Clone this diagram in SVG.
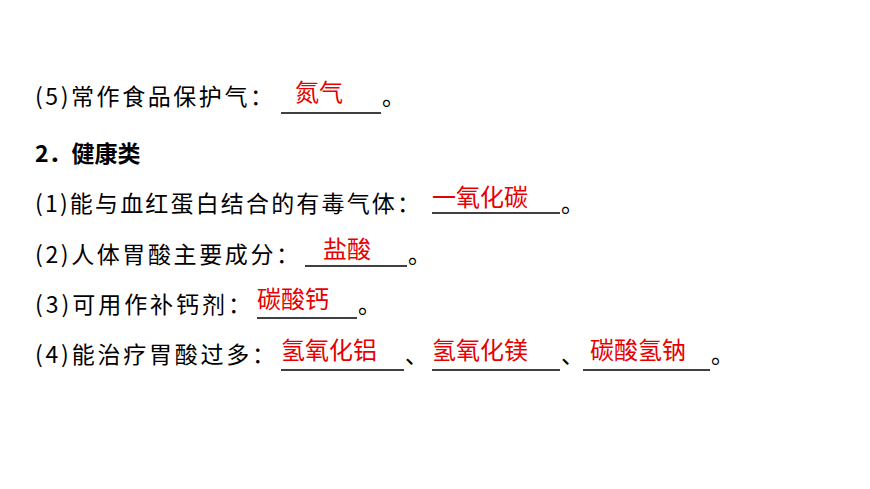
<svg xmlns="http://www.w3.org/2000/svg" width="870" height="489" viewBox="0 0 870 489">
<style>
.t{font-family:"Noto Sans CJK SC","Liberation Sans",sans-serif;font-size:23px;fill:#000}
.a{font-family:"Noto Sans CJK SC",sans-serif;font-size:24px;fill:#e60000}
.u{stroke:#000;stroke-width:1.5}
</style>
<rect width="870" height="489" fill="#fff"/>
<g id="line5">
<text class="t" x="35" y="105" textLength="238" lengthAdjust="spacing">(5)常作食品保护气：</text>
<line class="u" x1="281" y1="113" x2="381" y2="113"/>
<text class="a" x="295" y="101">氮气</text>
<text class="t" x="382" y="105">。</text>
</g>
<g id="title">
<text class="t" x="35" y="162" font-weight="bold">2．健康类</text>
</g>
<g id="line1">
<text class="t" x="35" y="212" textLength="385" lengthAdjust="spacing">(1)能与血红蛋白结合的有毒气体：</text>
<line class="u" x1="432" y1="213" x2="560" y2="213"/>
<text class="a" x="432" y="206">一氧化碳</text>
<text class="t" x="561" y="212">。</text>
</g>
<g id="line2">
<text class="t" x="35" y="263" textLength="264" lengthAdjust="spacing">(2)人体胃酸主要成分：</text>
<line class="u" x1="305" y1="266" x2="407" y2="266"/>
<text class="a" x="323" y="258">盐酸</text>
<text class="t" x="408" y="263">。</text>
</g>
<g id="line3">
<text class="t" x="35" y="313" textLength="216" lengthAdjust="spacing">(3)可用作补钙剂：</text>
<line class="u" x1="257" y1="318" x2="357" y2="318"/>
<text class="a" x="257" y="308">碳酸钙</text>
<text class="t" x="358" y="313">。</text>
</g>
<g id="line4">
<text class="t" x="35" y="363" textLength="240" lengthAdjust="spacing">(4)能治疗胃酸过多：</text>
<line class="u" x1="281" y1="370" x2="404" y2="370"/>
<text class="a" x="281" y="359">氢氧化铝</text>
<text class="t" x="405" y="363">、</text>
<line class="u" x1="432" y1="370" x2="560" y2="370"/>
<text class="a" x="432" y="359">氢氧化镁</text>
<text class="t" x="561" y="363">、</text>
<line class="u" x1="583" y1="370" x2="710" y2="370"/>
<text class="a" x="590" y="359">碳酸氢钠</text>
<text class="t" x="711" y="363">。</text>
</g>
</svg>
